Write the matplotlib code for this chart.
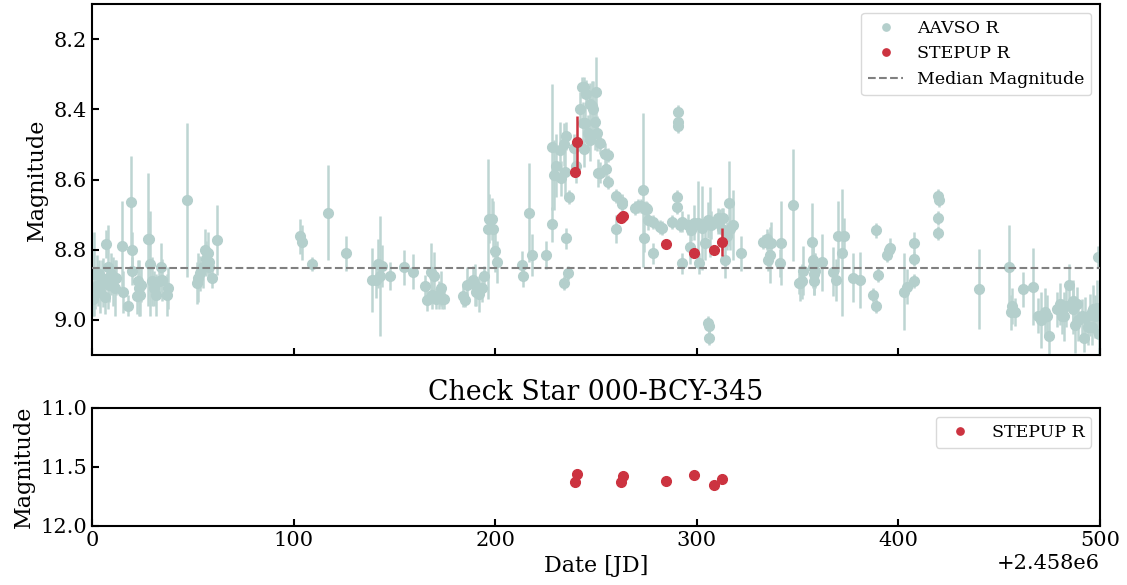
import numpy as np
import matplotlib
matplotlib.use("Agg")
import matplotlib.pyplot as plt

plt.rcParams['font.family'] = 'serif'
plt.rcParams['font.serif'] = ['DejaVu Serif']

#%% Data (days after JD 2458000)
JD0 = 2458000

aavso_days = [0.5, 1.0, 1.5, 2.3, 3.0, 3.5, 4.2, 5.0, 5.5, 6.4, 7.0, 8.0, 8.5, 9.5, 10.5, 11.2, 12.0,
              15.0, 15.2, 18.0, 19.2, 19.9, 20.1, 22.1, 22.6, 23.2, 23.8, 24.5, 27.9, 28.3, 28.8, 29.9,
              31.0, 31.6, 33.5, 34.2, 34.8, 37.0, 37.8, 47.1, 51.9, 52.5, 53.6, 55.2, 56.0, 56.7, 57.4,
              57.9, 58.2, 59.4, 62.0,
              103.2, 104.0, 109.0, 117.2, 126.0, 139.0, 140.8, 142.0, 142.8, 143.8, 147.8, 154.9, 159.0,
              165.0, 166.0, 168.0, 168.9, 169.5, 170.8, 172.0, 173.0, 173.8, 174.6, 184.2, 185.0, 186.0,
              188.8, 190.0, 190.6, 191.9, 193.5, 194.7, 196.6, 197.0,
              198.3, 199.0, 200.0, 200.7, 213.1, 213.9, 216.9, 218.1, 225.0, 228.0, 228.0, 229.0, 230.0,
              232.1, 232.5, 234.1, 234.4, 235.1, 235.3, 234.1, 236.0, 236.8, 239.0, 240.0, 242.0, 242.9,
              244.3, 245.0, 243.4, 244.5, 244.2, 246.2, 247.0, 247.8, 248.5, 249.5, 247.0, 250.0, 250.3,
              252.0, 251.2, 252.0, 254.5, 256.0, 255.0, 256.1, 260.0, 260.0, 262.7, 263.0, 269.3, 271.0,
              272.5, 273.1, 273.8, 275.0, 276.0,
              274.3, 275.4, 278.1, 278.1, 281.7, 283.0, 287.8, 290.0, 290.0, 290.8, 290.8, 290.8, 291.6,
              292.7, 292.9, 295.8, 297.0, 296.6, 298.5, 300.5, 301.2, 302.8, 304.0, 305.7, 306.5, 307.3,
              305.7, 306.0, 306.0, 310.5, 310.7, 311.5, 313.0, 312.3, 314.0, 315.0, 316.1, 316.5, 317.8,
              321.9, 333.0, 334.7, 335.4, 336.3, 335.2, 337.0, 341.3, 342.0, 347.9, 350.9,
              351.2, 352.0, 352.8, 357.0, 357.5, 357.8, 358.2, 358.2, 358.6, 361.9, 367.7, 369.0, 369.9,
              372.2, 373.0, 377.6, 381.0, 387.6, 388.9, 388.9, 390.0, 394.2, 395.3, 395.8, 402.8, 404.1,
              407.9, 407.9, 407.9, 419.8, 420.0, 419.8, 419.8,
              440.2, 455.0, 455.8, 456.6, 457.7, 461.9, 466.9, 469.4, 471.0, 472.6, 473.8, 474.9, 478.8,
              480.2, 481.0, 482.1, 483.1, 484.8, 486.4, 486.8, 487.7, 488.7, 489.2, 490.9, 492.0, 492.6,
              494.3, 495.1, 496.0, 496.7, 497.5, 498.7, 499.2, 499.5]

aavso_mag = [8.94, 8.87, 8.91, 8.866, 8.90, 8.87, 8.92, 8.88, 8.894, 8.934, 8.783, 8.85, 8.90, 8.87, 8.89, 8.91, 8.88,
             8.79, 8.92, 8.96, 8.663, 8.80, 8.86, 8.933, 8.89, 8.91, 8.93, 8.90, 8.77, 8.77, 8.84, 8.89,
             8.91, 8.93, 8.89, 8.85, 8.885, 8.93, 8.91, 8.658, 8.895, 8.88, 8.867, 8.85, 8.80, 8.825, 8.81,
             8.835, 8.85, 8.88, 8.772,
             8.761, 8.778, 8.84, 8.694, 8.81, 8.886, 8.886, 8.84, 8.875, 8.845, 8.874, 8.85, 8.862,
             8.903, 8.943, 8.862, 8.93, 8.875, 8.94, 8.93, 8.91, 8.94, 8.94, 8.933, 8.943, 8.90,
             8.886, 8.90, 8.92, 8.926, 8.91, 8.876, 8.74, 8.712,
             8.713, 8.741, 8.803, 8.836, 8.843, 8.876, 8.694, 8.815, 8.815, 8.727, 8.508, 8.587, 8.561,
             8.516, 8.596, 8.50, 8.577, 8.476, 8.767, 8.895, 8.867, 8.649, 8.51, 8.56, 8.40, 8.337,
             8.337, 8.357, 8.44, 8.44, 8.514, 8.466, 8.385, 8.39, 8.40, 8.435, 8.487, 8.35, 8.468,
             8.497, 8.582, 8.58, 8.527, 8.53, 8.571, 8.608, 8.647, 8.741, 8.663, 8.67, 8.68, 8.675,
             8.675, 8.63, 8.767, 8.68, 8.715,
             8.684, 8.684, 8.72, 8.81, 8.734, 8.738, 8.72, 8.651, 8.679, 8.407, 8.435, 8.447, 8.73,
             8.72, 8.838, 8.729, 8.745, 8.791, 8.723, 8.723, 8.838, 8.738, 8.78, 8.715, 8.72, 8.73,
             9.009, 9.018, 9.05, 8.725, 8.71, 8.715, 8.71, 8.74, 8.829, 8.76, 8.668, 8.74, 8.729,
             8.81, 8.777, 8.77, 8.78, 8.815, 8.83, 8.78, 8.838, 8.78, 8.672, 8.895,
             8.895, 8.89, 8.86, 8.777, 8.83, 8.85, 8.87, 8.89, 8.86, 8.836, 8.862, 8.885, 8.762,
             8.808, 8.76, 8.88, 8.886, 8.928, 8.96, 8.745, 8.871, 8.815, 8.80, 8.795, 8.919, 8.905,
             8.78, 8.827, 8.89, 8.647, 8.658, 8.71, 8.753,
             8.912, 8.848, 8.978, 8.96, 8.978, 8.912, 8.905, 8.988, 9.00, 8.978, 8.99, 9.047, 8.97,
             8.955, 8.99, 8.99, 8.96, 8.90, 8.97, 8.945, 9.013, 8.955, 9.00, 8.99, 9.05, 8.995,
             9.02, 8.985, 9.02, 8.97, 8.99, 8.965, 8.82, 9.04]

aavso_err = [0.05, 0.12, 0.06, 0.05, 0.06, 0.04, 0.06, 0.05, 0.07, 0.05, 0.04, 0.12, 0.05, 0.06, 0.07, 0.08, 0.05,
             0.13, 0.06, 0.03, 0.13, 0.05, 0.04, 0.05, 0.06, 0.08, 0.06, 0.05, 0.19, 0.06, 0.15, 0.07,
             0.05, 0.06, 0.04, 0.07, 0.06, 0.06, 0.06, 0.22, 0.06, 0.07, 0.05, 0.06, 0.06, 0.05, 0.06,
             0.04, 0.04, 0.03, 0.10,
             0.05, 0.05, 0.02, 0.135, 0.05, 0.09, 0.05, 0.07, 0.17, 0.06, 0.04, 0.05, 0.05,
             0.03, 0.03, 0.08, 0.04, 0.07, 0.03, 0.04, 0.05, 0.03, 0.03, 0.03, 0.02, 0.05,
             0.04, 0.06, 0.04, 0.05, 0.04, 0.03, 0.20, 0.07,
             0.06, 0.08, 0.06, 0.06, 0.04, 0.03, 0.14, 0.06, 0.04, 0.05, 0.18, 0.10, 0.09,
             0.08, 0.05, 0.06, 0.07, 0.04, 0.03, 0.02, 0.02, 0.02, 0.04, 0.05, 0.05, 0.03,
             0.03, 0.04, 0.06, 0.05, 0.05, 0.05, 0.06, 0.07, 0.08, 0.08, 0.06, 0.10, 0.05,
             0.03, 0.04, 0.03, 0.03, 0.02, 0.03, 0.02, 0.02, 0.04, 0.02, 0.03, 0.02, 0.02,
             0.02, 0.22, 0.04, 0.02, 0.03,
             0.02, 0.02, 0.02, 0.03, 0.02, 0.02, 0.02, 0.02, 0.02, 0.02, 0.02, 0.02, 0.02,
             0.03, 0.03, 0.03, 0.03, 0.05, 0.05, 0.12, 0.03, 0.12, 0.05, 0.05, 0.10, 0.04,
             0.02, 0.02, 0.02, 0.03, 0.03, 0.03, 0.03, 0.06, 0.05, 0.04, 0.12, 0.06, 0.10,
             0.05, 0.02, 0.03, 0.03, 0.08, 0.03, 0.06, 0.04, 0.12, 0.16, 0.03,
             0.05, 0.05, 0.07, 0.11, 0.05, 0.06, 0.06, 0.04, 0.05, 0.08, 0.07, 0.06, 0.10,
             0.18, 0.05, 0.07, 0.08, 0.02, 0.02, 0.02, 0.02, 0.02, 0.02, 0.03, 0.11, 0.05,
             0.03, 0.02, 0.02, 0.02, 0.02, 0.02, 0.02,
             0.115, 0.12, 0.05, 0.05, 0.04, 0.05, 0.11, 0.05, 0.08, 0.07, 0.06, 0.06, 0.05,
             0.06, 0.05, 0.07, 0.06, 0.06, 0.07, 0.06, 0.08, 0.05, 0.06, 0.05, 0.04, 0.06,
             0.05, 0.06, 0.05, 0.07, 0.06, 0.08, 0.03, 0.06]

stepup_days = [239.6, 240.7, 262.5, 263.5, 284.5, 298.6, 308.5, 312.5]
stepup_mag = [8.578, 8.494, 8.708, 8.703, 8.784, 8.808, 8.800, 8.778]
stepup_err = [0.01, 0.075, 0.01, 0.01, 0.01, 0.01, 0.01, 0.04]

check_mag = [11.63, 11.56, 11.63, 11.58, 11.62, 11.57, 11.65, 11.60]

median_mag = 8.852

aavso_color = '#b4cfcc'
aavso_bar_color = '#bdd5d2'
stepup_color = '#cc3340'

#%% Plot
fig = plt.figure(figsize=(11.27, 5.85), dpi=100)
ax1 = fig.add_axes([0.0816, 0.393, 0.8944, 0.600])
ax2 = fig.add_axes([0.0816, 0.1009, 0.8944, 0.2017], sharex=ax1)

t_a = JD0 + np.array(aavso_days)
t_s = JD0 + np.array(stepup_days)

ax1.errorbar(t_a, aavso_mag, yerr=aavso_err, fmt='none', ecolor=aavso_bar_color, elinewidth=1.8, zorder=1)
ax1.plot(t_a, aavso_mag, 'o', color=aavso_color, ms=7, label='AAVSO R', zorder=2)
ax1.errorbar(t_s, stepup_mag, yerr=stepup_err, fmt='none', ecolor=stepup_color, elinewidth=1.8, zorder=3)
ax1.plot(t_s, stepup_mag, 'o', color=stepup_color, ms=7, label='STEPUP R', zorder=4)
ax1.axhline(median_mag, color='#808080', ls='--', lw=1.5, label='Median Magnitude', zorder=5)

ax1.set_ylim(9.1, 8.1)
ax1.set_yticks([8.2, 8.4, 8.6, 8.8, 9.0])
ax1.set_ylabel('Magnitude', fontsize=16)
ax1.legend(loc='upper right', fontsize=12.5, markerscale=0.75, edgecolor='#d0d0d0')
ax1.tick_params(axis='x', labelbottom=False)

ax2.plot(t_s, check_mag, 'o', color=stepup_color, ms=7, label='STEPUP R')
ax2.set_ylim(12.0, 11.0)
ax2.set_yticks([11.0, 11.5, 12.0])
ax2.set_ylabel('Magnitude', fontsize=16)
ax2.set_xlabel('Date [JD]', fontsize=16)
ax2.set_title('Check Star 000-BCY-345', fontsize=19.3)
ax2.legend(loc='upper right', fontsize=12.5, markerscale=0.75, edgecolor='#d0d0d0')
ax2.set_xlim(JD0, JD0 + 500)
ax2.set_xticks(JD0 + np.array([0, 100, 200, 300, 400, 500]))

for ax in (ax1, ax2):
    ax.tick_params(direction='in', labelsize=15, width=1.5, length=5)
    for s in ax.spines.values():
        s.set_linewidth(1.5)
ax2.xaxis.get_offset_text().set_fontsize(15)

fig.savefig('out.png', dpi=100)
